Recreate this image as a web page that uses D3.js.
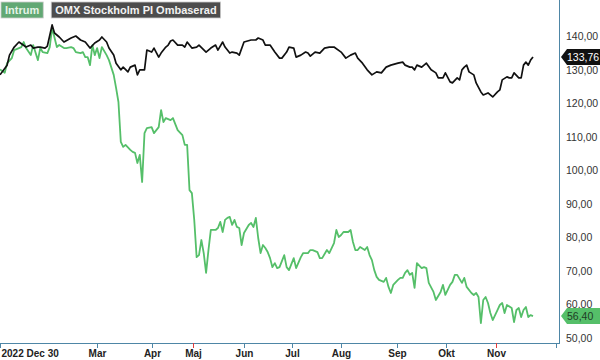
<!DOCTYPE html>
<html>
<head>
<meta charset="utf-8">
<script src="https://cdn.jsdelivr.net/npm/d3@7"></script>
<style>
  body { margin: 0; background: #fff; }
  svg { display: block; font-family: "Liberation Sans", Arial, sans-serif; }
</style>
</head>
<body>
<div id="chart"></div>
<script>
// trading-day index (0 = 2022 Dec 30) and value
const omx = [
  [0,128.4],[3,131.3],[4,134.3],[6,136.7],[8,138.2],[11,136.7],[13,137.3],[14,136.4],[16,136.7],[17,136.7],
  [19,136.4],[20,137.0],[22,143.3],[23,140.9],[25,139.7],[27,138.2],[30,139.4],[32,140.0],[34,138.8],[36,138.2],
  [38,136.4],[40,137.9],[42,138.8],[43,139.7],[45,138.2],[46,136.4],[48,134.3],[49,131.9],[51,129.9],[52,130.7],
  [54,129.3],[55,130.7],[57,131.3],[58,128.4],[59,129.9],[61,129.9],[62,135.8],[64,135.2],[65,136.4],[67,133.7],
  [68,134.9],[70,136.7],[71,137.3],[72,138.5],[73,138.8],[75,137.3],[77,137.3],[78,136.7],[79,138.2],[81,136.4],
  [83,136.7],[84,137.3],[87,135.2],[89,136.4],[91,137.3],[92,135.8],[94,138.2],[95,136.7],[97,134.9],[98,135.2],
  [100,134.9],[101,134.3],[103,138.2],[106,138.8],[108,138.8],[109,139.4],[111,138.8],[112,137.3],[114,137.3],[116,135.2],
  [118,133.4],[119,133.4],[121,135.2],[122,136.7],[124,136.4],[125,133.7],[127,134.3],[129,135.2],[130,134.9],[131,134.0],
  [133,135.2],[135,134.9],[137,136.4],[139,136.7],[141,136.7],[144,135.2],[146,133.4],[148,134.3],[150,134.9],[151,133.4],
  [153,131.9],[155,129.9],[157,128.4],[159,129.3],[161,129.0],[163,130.7],[165,131.3],[168,131.9],[170,132.2],[171,131.3],
  [173,130.7],[174,130.7],[175,129.9],[176,131.3],[178,130.7],[180,131.9],[182,129.9],[184,129.0],[185,127.5],[187,127.5],
  [188,129.0],[190,126.3],[191,126.0],[193,127.5],[194,126.9],[195,129.9],[196,130.7],[197,131.3],[198,129.3],[200,128.4],
  [201,126.0],[203,123.3],[204,122.4],[206,123.0],[207,122.4],[208,121.8],[210,123.3],[211,123.9],[212,126.9],[214,127.8],
  [215,127.5],[216,127.5],[217,129.0],[219,127.5],[220,127.5],[221,131.3],[222,132.2],[223,131.3],[224,132.8],[225,133.76]
];

const intrum = [
  [0,130.0],[2,129.0],[3,131.9],[5,133.4],[6,135.8],[8,136.4],[9,136.7],[10,138.2],[11,136.4],[13,134.3],
  [14,137.3],[16,132.8],[17,136.4],[18,135.2],[20,134.9],[21,136.7],[22,142.4],[24,136.7],[25,137.3],[27,136.4],
  [28,136.4],[30,136.7],[31,136.4],[32,135.2],[34,134.9],[35,135.2],[36,133.7],[37,133.7],[38,131.3],[39,137.3],
  [40,134.3],[41,136.4],[42,133.4],[43,136.7],[45,134.3],[46,132.8],[48,128.4],[49,124.5],[50,120.3],[51,108.4],
  [52,106.9],[53,107.5],[55,106.0],[56,105.4],[57,105.1],[58,102.1],[59,104.5],[60,96.4],[61,111.0],[62,112.5],
  [64,112.8],[65,111.0],[67,112.8],[68,117.9],[69,114.3],[70,115.5],[72,114.9],[73,115.5],[75,111.9],[77,110.4],
  [78,107.5],[79,107.5],[80,94.0],[81,93.1],[82,85.1],[83,74.0],[84,74.6],[85,79.1],[86,75.2],[87,69.3],
  [88,76.1],[89,82.1],[91,82.1],[92,82.7],[93,84.5],[94,81.5],[95,85.1],[96,85.7],[97,86.0],[98,83.6],
  [99,85.1],[100,83.0],[101,82.7],[102,77.6],[103,81.2],[105,83.6],[106,84.2],[107,83.0],[108,85.7],[109,79.7],
  [110,75.2],[111,77.6],[112,76.7],[113,75.5],[114,73.7],[115,71.0],[116,72.2],[117,70.7],[118,71.0],[120,74.6],
  [121,71.0],[122,70.1],[124,73.7],[125,70.7],[127,74.0],[128,75.2],[130,75.2],[131,76.1],[132,76.1],[134,75.5],
  [135,73.7],[136,73.7],[138,76.1],[139,75.2],[141,78.2],[142,82.1],[143,80.0],[144,80.6],[145,81.5],[147,81.5],
  [148,82.1],[149,78.5],[150,76.1],[151,76.1],[152,77.0],[154,76.1],[155,77.0],[156,74.6],[157,73.1],[158,70.1],
  [159,68.1],[160,67.2],[162,66.6],[163,67.8],[164,65.1],[165,63.3],[166,65.7],[168,67.2],[169,67.8],[170,67.8],
  [171,69.3],[172,70.1],[173,68.7],[174,69.3],[175,64.8],[176,72.2],[178,70.7],[179,71.0],[180,70.7],[181,66.3],
  [183,63.6],[184,61.2],[186,63.6],[187,65.7],[188,62.7],[190,65.7],[191,66.6],[192,68.7],[193,68.7],[195,66.3],
  [196,67.8],[197,65.1],[199,63.3],[200,62.7],[201,63.3],[202,62.1],[203,54.3],[204,61.2],[205,62.1],[206,60.3],
  [207,57.3],[208,55.2],[210,58.2],[211,59.7],[212,60.3],[213,57.3],[214,59.7],[216,58.8],[217,54.6],[218,58.2],
  [219,58.8],[220,56.1],[221,58.2],[222,59.1],[223,56.1],[224,56.7],[225,56.40]
];

const tickDays   = [0, 41, 64, 81.5, 103, 123.2, 144, 167.6, 188.3, 209.4, 234.7];
const tickLabels = ["2022 Dec 30", "Mar", "Apr", "Maj", "Jun", "Jul", "Aug", "Sep", "Okt", "Nov", ""];
const redTicks   = ["Maj", "Nov"];
const yTicks     = [50, 60, 70, 80, 90, 100, 110, 120, 130, 140];

const W = 600, H = 360;
const axisX = 559, axisY = 343;
const green = "#55bf69", axisCol = "#4e86a6";
const fmt = v => d3.format(".2f")(v).replace(".", ",");

const svg = d3.select("#chart").append("svg")
  .attr("width", W).attr("height", H);

const x = d3.scaleLinear().domain([0, 225]).range([0, 533]);
const y = d3.scaleLinear().domain([50, 140]).range([337.5, 36]);

// lines
const line = d3.line().x(d => x(d[0])).y(d => y(d[1]));

svg.append("path").datum(intrum)
  .attr("fill", "none").attr("stroke", green).attr("stroke-width", 1.8)
  .attr("stroke-linejoin", "round").attr("d", line);

svg.append("path").datum(omx)
  .attr("fill", "none").attr("stroke", "#111").attr("stroke-width", 1.7)
  .attr("stroke-linejoin", "round").attr("d", line);

// axes frame
svg.append("line").attr("x1", axisX + 0.5).attr("x2", axisX + 0.5)
  .attr("y1", 0).attr("y2", axisY).attr("stroke", axisCol);
svg.append("line").attr("x1", 0).attr("x2", axisX + 1)
  .attr("y1", axisY + 0.5).attr("y2", axisY + 0.5).attr("stroke", axisCol);

// x ticks
const xt = svg.append("g").selectAll("g")
  .data(tickDays.map((d, i) => ({ d, label: tickLabels[i] })))
  .enter().append("g")
  .attr("transform", t => `translate(${Math.round(x(t.d)) + 0.5},${axisY})`);

xt.append("line").attr("y1", 0).attr("y2", 5)
  .attr("stroke", t => redTicks.includes(t.label) ? "#e23b3b" : axisCol);

xt.append("text")
  .attr("y", 14)
  .attr("text-anchor", (t, i) => i === 0 ? "start" : "middle")
  .attr("x", (t, i) => i === 0 ? 1 : 0)
  .attr("font-size", 10).attr("font-weight", "bold").attr("fill", "#222")
  .text(t => t.label);

// y ticks
svg.append("g").selectAll("text").data(yTicks).enter().append("text")
  .attr("x", 566).attr("y", d => y(d) + 4)
  .attr("font-size", 10.5).attr("fill", "#333")
  .text(d => fmt(d));

// last value tags
function tag(val, bg, fg) {
  const cy = y(val);
  const g = svg.append("g").attr("transform", `translate(561,${cy})`);
  g.append("path")
    .attr("d", "M0,0 L6,-8 L39,-8 L39,8 L6,8 Z")
    .attr("fill", bg);
  g.append("text").attr("x", 6).attr("y", 4)
    .attr("font-size", 10.5).attr("fill", fg)
    .text(fmt(val));
}
tag(omx[omx.length - 1][1], "#111", "#fff");
tag(intrum[intrum.length - 1][1], green, "#1f3d25");

// legend
const legend = [
  { label: "Intrum", bg: "#62a874", fg: "#e6f3e8" },
  { label: "OMX Stockholm PI Ombaserad", bg: "#4d4d4d", fg: "#f2f2f2" }
];
let lx = 1;
legend.forEach(l => {
  const g = svg.append("g");
  const r = g.append("rect").attr("x", lx).attr("y", 2).attr("height", 16)
    .attr("fill", l.bg).attr("stroke", "#ccc").attr("stroke-width", 0.8);
  const t = g.append("text").attr("x", lx + 4).attr("y", 14)
    .attr("font-size", 11).attr("font-weight", "bold").attr("fill", l.fg)
    .text(l.label);
  const w = t.node().getComputedTextLength() + 8;
  r.attr("width", w);
  lx += w + 8;
});
</script>
</body>
</html>
